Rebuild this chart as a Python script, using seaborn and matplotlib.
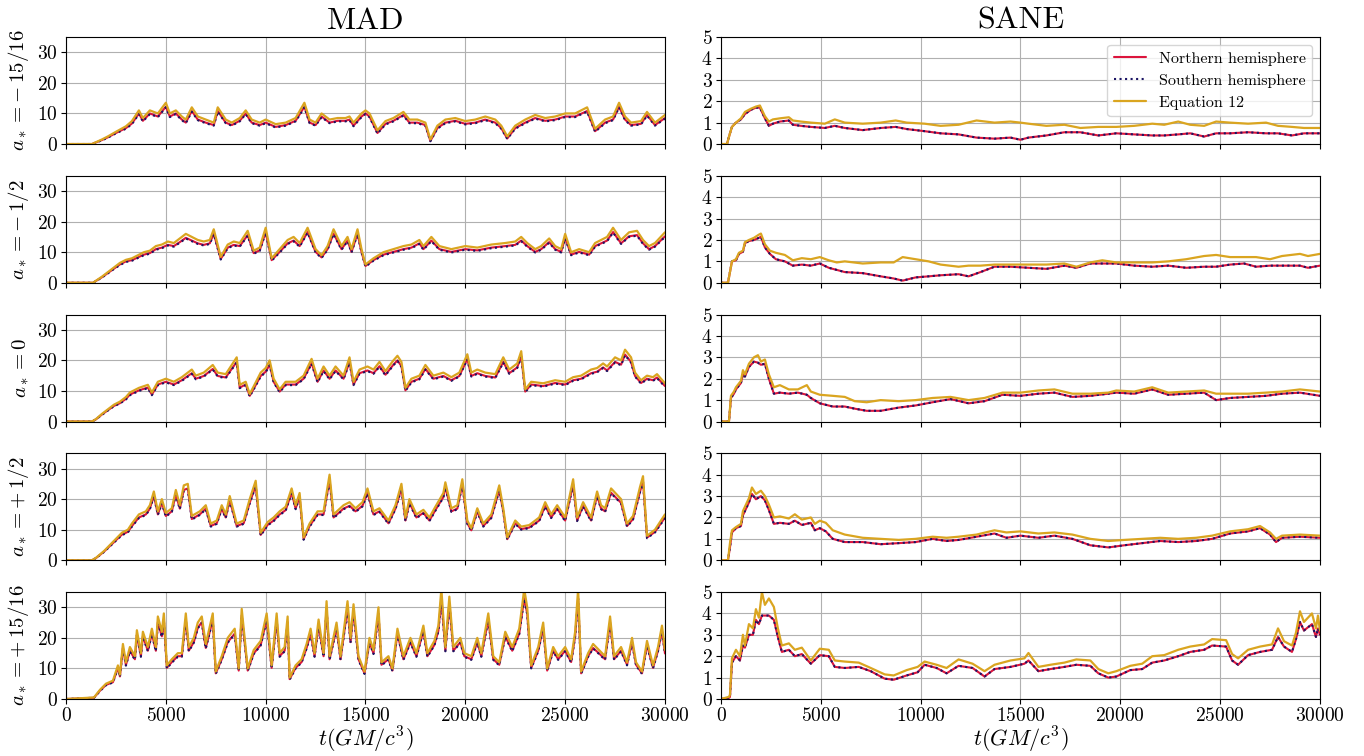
import matplotlib
matplotlib.use("Agg")
import matplotlib.pyplot as plt
import seaborn as sns

# ---------------- MAD, a* = -15/16 ----------------
T_MAD_1 = [0, 1300, 1800, 2100, 2500, 3000, 3300, 3650, 3850, 4200, 4600, 5000, 5200, 5500, 5800, 6000, 6300, 6600, 7000, 7400,
           7600, 8000, 8300, 8700, 9000, 9300, 9700, 10000, 10500, 11000, 11500, 11940, 12200, 12500, 12800, 13200, 13600, 14000, 14200, 14400,
           14800, 15000, 15200, 15600, 16000, 16400, 16900, 17200, 17600, 18000, 18250, 18600, 19000, 19500, 20000, 20500, 21000, 21500, 21800, 22100,
           22500, 23000, 23500, 24000, 24500, 25000, 25500, 26100, 26500, 27000, 27400, 27700, 28000, 28300, 28800, 29100, 29500, 30000]
EQ_MAD_1 = [0, 0, 1.5, 2.5, 4, 5.8, 7.5, 11, 8.5, 11, 10, 13.5, 10, 11, 9, 8, 12, 9, 8, 7,
            12, 8, 7, 8.5, 11, 8, 7, 8, 6.5, 7, 8.5, 13.5, 8, 7, 10, 8, 8.5, 8.5, 9, 7,
            10, 11, 10, 4.5, 7.5, 8.5, 10.5, 8, 8, 7, 1.5, 6, 8, 8.5, 7.5, 8, 9, 8, 6, 2.5,
            6, 8, 9.5, 8.5, 9, 10, 10, 12, 5, 8, 9, 13.5, 9, 7, 7.5, 10.5, 7, 9.5]
N_MAD_1 = [0, 0, 1.3, 2.2, 3.6, 5.2, 6.7, 10, 7.6, 10, 9, 12.2, 9, 10, 8, 7, 10.8, 8, 7, 6.2,
           10.8, 7, 6.2, 7.6, 10, 7, 6.2, 7, 5.6, 6.2, 7.6, 12.2, 7, 6.2, 9, 7, 7.6, 7.6, 8, 6,
           9, 10, 9, 3.6, 6.6, 7.6, 9.5, 7, 7, 6.2, 1.0, 5.2, 7, 7.6, 6.6, 7, 8, 7, 5.2, 1.8,
           5.2, 7, 8.5, 7.6, 8, 9, 9, 10.8, 4.2, 7, 8, 12.2, 8, 6.2, 6.6, 9.5, 6.2, 8.5]
S_MAD_1 = [0, 0, 1.2, 2.1, 3.5, 5.0, 6.5, 9.8, 7.4, 9.8, 8.8, 12.0, 8.8, 9.8, 7.8, 6.8, 10.6, 7.8, 6.8, 6.0,
           10.6, 6.8, 6.0, 7.4, 9.8, 6.8, 6.0, 6.8, 5.4, 6.0, 7.4, 12.0, 6.8, 6.0, 8.8, 6.8, 7.4, 7.4, 7.8, 5.8,
           8.8, 9.8, 8.8, 3.4, 6.4, 7.4, 9.3, 6.8, 6.8, 6.0, 0.9, 5.0, 6.8, 7.4, 6.4, 6.8, 7.8, 6.8, 5.0, 1.7,
           5.0, 6.8, 8.3, 7.4, 7.8, 8.8, 8.8, 10.6, 4.0, 6.8, 7.8, 12.0, 7.8, 6.0, 6.4, 9.3, 6.0, 8.3]

# ---------------- MAD, a* = -1/2 ----------------
T_MAD_2 = [0, 1350, 1800, 2100, 2400, 2700, 3000, 3300, 3600, 3900, 4200, 4500, 4800, 5100, 5400, 5700, 6000, 6300, 6600, 6900,
           7200, 7400, 7750, 8100, 8400, 8700, 9100, 9400, 9700, 10000, 10300, 10700, 11100, 11400, 11700, 12100, 12500, 12800, 13100, 13400,
           13800, 14100, 14300, 14600, 14800, 15000, 15400, 15900, 16400, 16900, 17300, 17700, 17900, 18300, 18700, 19300, 20000, 20600, 21300, 22000,
           22500, 22800, 23100, 23500, 23800, 24200, 24500, 24800, 25000, 25300, 25700, 26200, 26500, 26800, 27100, 27400, 27800, 28200, 28600, 28900,
           29200, 29500, 30000]
EQ_MAD_2 = [0, 0, 2, 3.5, 5, 6.5, 7.5, 8, 9, 10, 10.5, 12, 12.5, 13.5, 13, 14.5, 16, 15, 14, 13.5,
            14, 17.5, 8.5, 12.5, 13.5, 13, 17, 10.5, 11.5, 18, 8, 11, 14, 15, 13, 18, 11, 9, 12, 17.5,
            12, 15, 11, 17.5, 11, 6, 8, 10, 11, 12, 12.5, 14, 12, 15, 12, 11, 12, 11.5, 12.5, 13,
            13.5, 15, 13, 11, 12, 14.5, 12, 11, 16, 10, 11, 10, 13, 14, 15, 18, 14, 16.5, 17, 14,
            12, 13, 16.5]
N_MAD_2 = [0, 0, 1.8, 3.2, 4.6, 6, 7, 7.4, 8.3, 9.2, 9.7, 11, 11.5, 12.4, 12, 13.3, 14.7, 13.8, 12.9, 12.4,
           12.9, 16.1, 7.8, 11.5, 12.4, 12, 15.6, 9.7, 10.6, 16.6, 7.4, 10.1, 12.9, 13.8, 12, 16.6, 10.1, 8.3, 11, 16.1,
           11, 13.8, 10.1, 16.1, 10.1, 5.5, 7.4, 9.2, 10.1, 11, 11.5, 12.9, 11, 13.8, 11, 10.1, 11, 10.6, 11.5, 12,
           12.4, 13.8, 12, 10.1, 11, 13.3, 11, 10.1, 14.7, 9.2, 10.1, 9.2, 12, 12.9, 13.8, 16.6, 12.9, 15.2, 15.6, 12.9,
           11, 12, 15.2]
S_MAD_2 = [0, 0, 1.7, 3.1, 4.5, 5.8, 6.8, 7.2, 8.1, 9.0, 9.5, 10.8, 11.3, 12.2, 11.8, 13.1, 14.5, 13.6, 12.7, 12.2,
           12.7, 15.9, 7.6, 11.3, 12.2, 11.8, 15.4, 9.5, 10.4, 16.4, 7.2, 9.9, 12.7, 13.6, 11.8, 16.4, 9.9, 8.1, 10.8, 15.9,
           10.8, 13.6, 9.9, 15.9, 9.9, 5.3, 7.2, 9.0, 9.9, 10.8, 11.3, 12.7, 10.8, 13.6, 10.8, 9.9, 10.8, 10.4, 11.3, 11.8,
           12.2, 13.6, 11.8, 9.9, 10.8, 13.1, 10.8, 9.9, 14.5, 9.0, 9.9, 9.0, 11.8, 12.7, 13.6, 16.4, 12.7, 15.0, 15.4, 12.7,
           10.8, 11.8, 15.0]

# ---------------- MAD, a* = 0 ----------------
T_MAD_3 = [0, 1300, 1500, 1800, 2100, 2400, 2700, 3000, 3200, 3650, 4100, 4300, 4600, 5000, 5400, 5800, 6300, 6500, 6900, 7350,
           7600, 8000, 8200, 8550, 8700, 9000, 9200, 9400, 9750, 10000, 10200, 10400, 10700, 11000, 11500, 11900, 12300, 12600, 12900, 13200,
           13500, 13900, 14200, 14400, 14700, 15100, 15400, 15700, 16000, 16400, 16600, 16800, 17000, 17300, 17700, 18000, 18400, 18900, 19300, 19700,
           20100, 20300, 20600, 21000, 21500, 21900, 22200, 22600, 22800, 23000, 23300, 23900, 24500, 25000, 25400, 25800, 26300, 26600, 26900, 27100,
           27500, 27800, 28000, 28300, 28500, 28800, 29100, 29400, 29600, 30000]
EQ_MAD_3 = [0, 0, 0.8, 2.5, 4, 5.5, 6.5, 8, 9.5, 11, 12, 9.5, 13, 14, 13, 14.5, 17, 15, 16, 18.5,
            16, 15.5, 17.5, 21, 12, 13, 9, 11.5, 16, 17.5, 20, 14, 10.5, 13, 13, 15, 20.5, 14, 18, 15,
            18, 15, 21, 13, 17, 18, 17, 19.5, 16.5, 20, 21.5, 19.5, 11, 14, 15, 18.5, 15, 16, 14.5, 16,
            22, 16, 17, 16, 15.5, 21, 17, 19, 23, 10.5, 13, 12.5, 13.5, 13, 14.5, 15, 17, 17.5, 19, 18,
            21, 20, 23.5, 21, 16, 13.5, 15, 14.5, 15.5, 12.5]
N_MAD_3 = [0, 0, 0.7, 2.3, 3.7, 5.1, 6, 7.4, 8.8, 10.2, 11.1, 8.8, 12.1, 13, 12.1, 13.5, 15.8, 14, 14.9, 17.2,
           14.9, 14.4, 16.3, 19.5, 11.1, 12.1, 8.4, 10.7, 14.9, 16.3, 18.6, 13, 9.8, 12.1, 12.1, 14, 19.1, 13, 16.7, 14,
           16.7, 14, 19.5, 12.1, 15.8, 16.7, 15.8, 18.1, 15.3, 18.6, 20, 18.1, 10.2, 13, 14, 17.2, 14, 14.9, 13.5, 14.9,
           20.5, 14.9, 15.8, 14.9, 14.4, 19.5, 15.8, 17.7, 21.4, 9.8, 12.1, 11.6, 12.6, 12.1, 13.5, 14, 15.8, 16.3, 17.7, 16.7,
           19.5, 18.6, 21.9, 19.5, 14.9, 12.6, 14, 13.5, 14.4, 11.6]
S_MAD_3 = [0, 0, 0.7, 2.2, 3.6, 5.0, 5.9, 7.2, 8.6, 10.0, 10.9, 8.6, 11.9, 12.8, 11.9, 13.3, 15.6, 13.8, 14.7, 17.0,
           14.7, 14.2, 16.1, 19.3, 10.9, 11.9, 8.2, 10.5, 14.7, 16.1, 18.4, 12.8, 9.6, 11.9, 11.9, 13.8, 18.9, 12.8, 16.5, 13.8,
           16.5, 13.8, 19.3, 11.9, 15.6, 16.5, 15.6, 17.9, 15.1, 18.4, 19.8, 17.9, 10.0, 12.8, 13.8, 17.0, 13.8, 14.7, 13.3, 14.7,
           20.3, 14.7, 15.6, 14.7, 14.2, 19.3, 15.6, 17.5, 21.2, 9.6, 11.9, 11.4, 12.4, 11.9, 13.3, 13.8, 15.6, 16.1, 17.5, 16.5,
           19.3, 18.4, 21.7, 19.3, 14.7, 12.4, 13.8, 13.3, 14.2, 11.4]

# ---------------- MAD, a* = +1/2 ----------------
T_MAD_4 = [0, 1300, 1500, 1900, 2350, 2800, 3100, 3300, 3650, 4000, 4200, 4400, 4600, 4800, 5000, 5300, 5500, 5700, 5900, 6100,
           6300, 6700, 7000, 7250, 7550, 7800, 8000, 8200, 8550, 8900, 9200, 9500, 9750, 10100, 10400, 10700, 11000, 11300, 11500, 11700,
           11900, 12200, 12600, 12900, 13200, 13400, 13900, 14200, 14500, 14850, 15100, 15400, 15700, 16150, 16500, 16800, 17000, 17200, 17550, 17900,
           18200, 18500, 18900, 19000, 19300, 19600, 19850, 20100, 20300, 20600, 20900, 21300, 21700, 21900, 22100, 22500, 22800, 23200, 23700, 24000,
           24300, 24600, 25000, 25400, 25600, 25900, 26300, 26600, 26800, 27000, 27300, 27800, 28100, 28400, 28750, 28900, 29100, 29500, 30000]
EQ_MAD_4 = [0, 0, 0.8, 3, 6, 9, 10, 12, 15, 16, 18, 22.5, 16, 20, 15.5, 17, 23, 18, 24.5, 25,
            14.5, 16, 18, 12, 13, 18, 15, 21, 12, 13, 20, 26, 9, 12.5, 14, 16, 17.5, 23.5, 18, 22,
            7.5, 12, 16, 16, 28, 15, 18, 19, 17, 19, 23.5, 16, 17, 13, 18, 25, 14, 20, 15, 16.5,
            14, 17.5, 22, 25.5, 17, 18, 26.5, 13, 10.5, 17, 12, 15, 24.5, 17, 7.5, 13, 11, 11.5, 14, 19,
            15, 18, 14, 26.5, 14, 19, 14, 22.5, 18, 17, 23.5, 20, 12, 14.5, 24, 27.5, 8, 10, 15]
N_MAD_4 = [0, 0, 0.7, 2.8, 5.6, 8.4, 9.3, 11.2, 14, 15, 16.9, 21.2, 15, 18.8, 14.5, 16, 21.6, 16.9, 23, 23.5,
           13.5, 15, 16.9, 11.2, 12.1, 16.9, 14, 19.7, 11.2, 12.1, 18.8, 24.4, 8.3, 11.6, 13, 15, 16.4, 22.1, 16.9, 20.7,
           6.9, 11.2, 15, 15, 26.3, 14, 16.9, 17.8, 16, 17.8, 22.1, 15, 16, 12.1, 16.9, 23.5, 13, 18.8, 14, 15.5,
           13, 16.4, 20.7, 24, 16, 16.9, 24.9, 12.1, 9.8, 16, 11.2, 14, 23, 16, 6.9, 12.1, 10.2, 10.7, 13, 17.8,
           14, 16.9, 13, 24.9, 13, 17.8, 13, 21.2, 16.9, 16, 22.1, 18.8, 11.2, 13.5, 22.5, 25.8, 7.4, 9.3, 14]
S_MAD_4 = [0, 0, 0.7, 2.7, 5.5, 8.2, 9.1, 11.0, 13.8, 14.8, 16.7, 21.0, 14.8, 18.6, 14.3, 15.8, 21.4, 16.7, 22.8, 23.3,
           13.3, 14.8, 16.7, 11.0, 11.9, 16.7, 13.8, 19.5, 11.0, 11.9, 18.6, 24.2, 8.1, 11.4, 12.8, 14.8, 16.2, 21.9, 16.7, 20.5,
           6.7, 11.0, 14.8, 14.8, 26.1, 13.8, 16.7, 17.6, 15.8, 17.6, 21.9, 14.8, 15.8, 11.9, 16.7, 23.3, 12.8, 18.6, 13.8, 15.3,
           12.8, 16.2, 20.5, 23.8, 15.8, 16.7, 24.7, 11.9, 9.6, 15.8, 11.0, 13.8, 22.8, 15.8, 6.7, 11.9, 10.0, 10.5, 12.8, 17.6,
           13.8, 16.7, 12.8, 24.7, 12.8, 17.6, 12.8, 21.0, 16.7, 15.8, 21.9, 18.6, 11.0, 13.3, 22.3, 25.6, 7.2, 9.1, 13.8]

# ---------------- MAD, a* = +15/16 ----------------
T_MAD_5 = [0, 1400, 1700, 2000, 2350, 2600, 2700, 2850, 3000, 3200,
           3450, 3550, 3750, 3850, 4100, 4300, 4500, 4600, 4800, 4900,
           5050, 5300, 5600, 5800, 6000, 6150, 6400, 6600, 6800, 7000,
           7350, 7500, 7800, 8100, 8450, 8650, 8800, 9100, 9400, 9750,
           10050, 10300, 10550, 10700, 10950, 11100, 11200, 11500, 11800, 12050,
           12250, 12450, 12650, 12900, 13050, 13200, 13550, 13750, 14100, 14250,
           14400, 14650, 14950, 15200, 15400, 15650, 15800, 16150, 16350, 16600,
           16900, 17250, 17550, 17900, 18100, 18450, 18650, 18800, 19000, 19200,
           19400, 19750, 19950, 20300, 20600, 20800, 21150, 21400, 21700, 22000,
           22350, 22700, 22950, 23100, 23300, 23650, 23900, 24100, 24400, 24650,
           25000, 25300, 25500, 25650, 25800, 26150, 26400, 26700, 27000, 27250,
           27450, 27800, 28100, 28350, 28550, 28850, 29100, 29400, 29650, 29850,
           30000]
EQ_MAD_5 = [0, 0.5, 3, 5, 6, 11, 8, 18, 12, 17,
            14, 22.5, 15, 22, 17, 23, 17, 27, 22, 28,
            11, 13, 15, 15, 28, 17, 20, 25, 27, 18,
            28, 9, 14, 20, 23, 10, 29.5, 10, 16, 19,
            28, 11, 28, 15, 17, 27, 7, 11, 13, 18,
            23, 15, 26, 15, 32, 14, 25, 14, 32, 20,
            31, 14, 9, 20, 16, 30, 12, 14, 10, 23,
            14, 20, 15, 24, 15, 19, 24, 36, 17, 33.5,
            17, 20, 15, 14, 20, 15, 28, 14, 12, 22,
            17, 23, 36, 30, 11, 17, 25, 10, 17, 14,
            17, 13, 22, 36, 9, 15, 18, 16, 14, 27,
            14, 17, 12, 20, 12, 9, 19, 11, 17, 24,
            16]
N_MAD_5 = [0, 0.4, 2.7, 4.6, 5.5, 10.2, 7.4, 16.7, 11.1, 15.8,
           13, 21, 14, 20.5, 15.8, 21.4, 15.8, 25.1, 20.5, 26,
           10.2, 12.1, 14, 14, 26, 15.8, 18.6, 23.3, 25.1, 16.7,
           26, 8.4, 13, 18.6, 21.4, 9.3, 27.4, 9.3, 14.9, 17.7,
           26, 10.2, 26, 14, 15.8, 25.1, 6.5, 10.2, 12.1, 16.7,
           21.4, 14, 24.2, 14, 29.8, 13, 23.3, 13, 29.8, 18.6,
           28.8, 13, 8.4, 18.6, 14.9, 27.9, 11.2, 13, 9.3, 21.4,
           13, 18.6, 14, 22.3, 14, 17.7, 22.3, 33, 15.8, 31.2,
           15.8, 18.6, 14, 13, 18.6, 14, 26, 13, 11.2, 20.5,
           15.8, 21.4, 33, 27.9, 10.2, 15.8, 23.3, 9.3, 15.8, 13,
           15.8, 12.1, 20.5, 33, 8.4, 14, 16.7, 14.9, 13, 25.1,
           13, 15.8, 11.2, 18.6, 11.2, 8.4, 17.7, 10.2, 15.8, 22.3,
           14.9]
S_MAD_5 = [0, 0.4, 2.6, 4.5, 5.4, 10.0, 7.2, 16.5, 10.9, 15.6,
           12.8, 20.8, 13.8, 20.3, 15.6, 21.2, 15.6, 24.9, 20.3, 25.8,
           10.0, 11.9, 13.8, 13.8, 25.8, 15.6, 18.4, 23.1, 24.9, 16.5,
           25.8, 8.2, 12.8, 18.4, 21.2, 9.1, 27.2, 9.1, 14.7, 17.5,
           25.8, 10.0, 25.8, 13.8, 15.6, 24.9, 6.3, 10.0, 11.9, 16.5,
           21.2, 13.8, 24.0, 13.8, 29.6, 12.8, 23.1, 12.8, 29.6, 18.4,
           28.6, 12.8, 8.2, 18.4, 14.7, 27.7, 11.0, 12.8, 9.1, 21.2,
           12.8, 18.4, 13.8, 22.1, 13.8, 17.5, 22.1, 32.8, 15.6, 31.0,
           15.6, 18.4, 13.8, 12.8, 18.4, 13.8, 25.8, 12.8, 11.0, 20.3,
           15.6, 21.2, 32.8, 27.7, 10.0, 15.6, 23.1, 9.1, 15.6, 12.8,
           15.6, 11.9, 20.3, 32.8, 8.2, 13.8, 16.5, 14.7, 12.8, 24.9,
           12.8, 15.6, 11.0, 18.4, 11.0, 8.2, 17.5, 10.0, 15.6, 22.1,
           14.7]

# ---------------- SANE, a* = -15/16 ----------------
T_SANE_1 = [0, 300, 450, 550, 750, 1000, 1200, 1500, 1750, 1950,
            2200, 2400, 2600, 2950, 3400, 3600, 4000, 4500, 5200, 5700,
            6200, 7100, 8000, 8750, 9300, 10200, 11000, 11900, 12800, 13700,
            14500, 15000, 15400, 16300, 17200, 18000, 18900, 19800, 20700, 21600,
            22200, 22900, 23500, 24200, 24800, 25500, 26400, 27300, 27900, 28600,
            29200, 30000]
EQ_SANE_1 = [0, 0, 0.5, 0.8, 1.0, 1.2, 1.5, 1.65, 1.75, 1.8,
             1.3, 1.05, 1.15, 1.2, 1.25, 1.1, 1.05, 1.0, 0.95, 1.15,
             1.0, 0.95, 1.0, 1.1, 1.0, 0.95, 0.85, 0.9, 1.1, 1.0,
             1.05, 1.0, 0.95, 0.85, 0.9, 0.75, 0.8, 0.8, 0.85, 0.95,
             0.9, 1.05, 0.9, 0.85, 1.05, 1.0, 0.95, 1.0, 0.85, 0.8,
             0.75, 0.75]
N_SANE_1 = [0, 0, 0.5, 0.8, 1.0, 1.15, 1.4, 1.6, 1.7, 1.7,
            1.2, 0.85, 0.95, 1.05, 1.1, 0.9, 0.85, 0.8, 0.75, 0.85,
            0.75, 0.65, 0.75, 0.8, 0.7, 0.6, 0.5, 0.45, 0.3, 0.25,
            0.3, 0.2, 0.3, 0.4, 0.55, 0.55, 0.4, 0.5, 0.45, 0.4,
            0.4, 0.45, 0.5, 0.35, 0.5, 0.5, 0.55, 0.5, 0.5, 0.4,
            0.5, 0.5]
S_SANE_1 = [0, 0, 0.5, 0.8, 1.0, 1.15, 1.4, 1.6, 1.7, 1.7,
            1.2, 0.85, 0.95, 1.05, 1.1, 0.9, 0.85, 0.8, 0.75, 0.85,
            0.75, 0.65, 0.75, 0.8, 0.7, 0.6, 0.5, 0.45, 0.3, 0.25,
            0.3, 0.2, 0.3, 0.4, 0.55, 0.55, 0.4, 0.5, 0.45, 0.4,
            0.4, 0.45, 0.5, 0.35, 0.5, 0.5, 0.55, 0.5, 0.5, 0.4,
            0.5, 0.5]

# ---------------- SANE, a* = -1/2 ----------------
T_SANE_2 = [0, 350, 450, 550, 750, 900, 1100, 1200, 1400, 1650,
            1900, 2000, 2200, 2450, 2750, 3200, 3600, 4050, 4500, 4950,
            5400, 5800, 6200, 7100, 8000, 8650, 9100, 9750, 10400, 11000,
            11900, 12400, 13000, 13700, 14500, 15400, 16300, 17200, 17800, 18500,
            19100, 19800, 20700, 21600, 22400, 23300, 24200, 24800, 25500, 26200,
            26800, 27500, 28100, 29000, 29400, 30000]
EQ_SANE_2 = [0, 0, 0.5, 1.0, 1.1, 1.4, 1.5, 1.9, 2.0, 2.1,
             2.25, 2.3, 1.8, 1.5, 1.4, 1.3, 1.05, 1.15, 1.1, 1.2,
             1.05, 0.95, 1.0, 0.9, 0.95, 0.95, 1.2, 1.1, 1.0, 0.85,
             0.75, 0.8, 0.8, 0.85, 0.85, 0.85, 0.85, 0.9, 0.75, 0.95,
             1.05, 0.95, 0.95, 0.95, 1.0, 1.1, 1.25, 1.3, 1.2, 1.2,
             1.2, 1.1, 1.25, 1.35, 1.25, 1.35]
N_SANE_2 = [0, 0, 0.5, 1.0, 1.05, 1.35, 1.45, 1.85, 1.95, 2.0,
            2.1, 2.15, 1.65, 1.35, 1.1, 1.0, 0.8, 0.85, 0.8, 0.9,
            0.7, 0.6, 0.5, 0.45, 0.3, 0.2, 0.1, 0.25, 0.3, 0.35,
            0.4, 0.3, 0.5, 0.75, 0.75, 0.7, 0.65, 0.8, 0.7, 0.9,
            0.9, 0.9, 0.8, 0.75, 0.8, 0.7, 0.75, 0.75, 0.85, 0.9,
            0.75, 0.8, 0.8, 0.8, 0.7, 0.8]
S_SANE_2 = [0, 0, 0.5, 1.0, 1.05, 1.35, 1.45, 1.85, 1.95, 2.0,
            2.1, 2.15, 1.65, 1.35, 1.1, 1.0, 0.8, 0.85, 0.8, 0.9,
            0.7, 0.6, 0.5, 0.45, 0.3, 0.2, 0.1, 0.25, 0.3, 0.35,
            0.4, 0.3, 0.5, 0.75, 0.75, 0.7, 0.65, 0.8, 0.7, 0.9,
            0.9, 0.9, 0.8, 0.75, 0.8, 0.7, 0.75, 0.75, 0.85, 0.9,
            0.75, 0.8, 0.8, 0.8, 0.7, 0.8]

# ---------------- SANE, a* = 0 ----------------
T_SANE_3 = [0, 400, 500, 650, 750, 1000, 1100, 1200, 1400, 1650,
            1850, 2000, 2200, 2400, 2650, 2950, 3400, 3850, 4300, 4500,
            4950, 5600, 6200, 6700, 7300, 8000, 8900, 9750, 10600, 11500,
            12400, 13200, 14100, 15000, 15900, 16700, 17600, 18500, 19400, 19800,
            20700, 21600, 22400, 23300, 24200, 24800, 25500, 26400, 27300, 28100,
            29000, 30000]
EQ_SANE_3 = [0, 0, 1.2, 1.4, 1.6, 1.9, 2.4, 2.2, 2.7, 3.0,
             3.1, 2.8, 2.9, 2.2, 1.6, 1.7, 1.5, 1.5, 1.7, 1.4,
             1.25, 1.2, 1.15, 0.95, 0.9, 1.0, 0.95, 1.0, 1.1, 1.15,
             1.0, 1.1, 1.35, 1.35, 1.45, 1.5, 1.3, 1.3, 1.35, 1.45,
             1.4, 1.6, 1.35, 1.4, 1.45, 1.3, 1.3, 1.3, 1.35, 1.4,
             1.5, 1.4]
N_SANE_3 = [0, 0, 1.1, 1.3, 1.5, 1.8, 2.2, 2.1, 2.55, 2.8,
            2.75, 2.65, 2.7, 2.0, 1.3, 1.35, 1.3, 1.35, 1.25, 1.1,
            0.85, 0.7, 0.7, 0.6, 0.5, 0.5, 0.65, 0.75, 0.9, 1.05,
            0.85, 0.95, 1.25, 1.2, 1.3, 1.35, 1.15, 1.2, 1.3, 1.35,
            1.3, 1.5, 1.25, 1.3, 1.35, 1.0, 1.1, 1.15, 1.2, 1.3,
            1.35, 1.2]
S_SANE_3 = [0, 0, 1.1, 1.3, 1.5, 1.8, 2.2, 2.1, 2.55, 2.8,
            2.75, 2.65, 2.7, 2.0, 1.3, 1.35, 1.3, 1.35, 1.25, 1.1,
            0.85, 0.7, 0.7, 0.6, 0.5, 0.5, 0.65, 0.75, 0.9, 1.05,
            0.85, 0.95, 1.25, 1.2, 1.3, 1.35, 1.15, 1.2, 1.3, 1.35,
            1.3, 1.5, 1.25, 1.3, 1.35, 1.0, 1.1, 1.15, 1.2, 1.3,
            1.35, 1.2]

# ---------------- SANE, a* = +1/2 ----------------
T_SANE_4 = [0, 350, 450, 550, 750, 1000, 1100, 1200, 1400, 1550,
            1750, 2000, 2200, 2400, 2650, 2950, 3400, 3700, 4050, 4500,
            4700, 4950, 5250, 5600, 6200, 7100, 8000, 8900, 9750, 10600,
            11300, 11900, 12800, 13700, 14300, 15000, 15900, 16700, 17600, 18500,
            19400, 20200, 21100, 22000, 22900, 23800, 24600, 25500, 26400, 27000,
            27500, 27800, 28100, 29000, 30000]
EQ_SANE_4 = [0, 0, 0.8, 1.4, 1.55, 1.7, 2.3, 2.5, 2.9, 3.4,
             3.1, 3.25, 3.0, 2.6, 2.0, 2.05, 1.95, 2.15, 1.9, 2.0,
             1.7, 1.85, 1.75, 1.4, 1.2, 1.05, 1.0, 0.95, 1.0, 1.1,
             1.05, 1.1, 1.2, 1.4, 1.3, 1.35, 1.25, 1.3, 1.2, 1.0,
             0.9, 0.95, 1.0, 1.05, 1.0, 1.05, 1.15, 1.35, 1.45, 1.6,
             1.3, 1.0, 1.15, 1.2, 1.15]
N_SANE_4 = [0, 0, 0.6, 1.3, 1.5, 1.6, 2.1, 2.3, 2.7, 3.1,
            2.85, 3.0, 2.8, 2.35, 1.7, 1.75, 1.7, 1.85, 1.65, 1.75,
            1.4, 1.5, 1.35, 1.0, 0.85, 0.85, 0.75, 0.8, 0.85, 1.0,
            0.9, 0.95, 1.1, 1.25, 1.05, 1.15, 1.05, 1.15, 1.0, 0.7,
            0.6, 0.7, 0.8, 0.9, 0.85, 0.9, 1.0, 1.25, 1.35, 1.5,
            1.2, 0.85, 1.05, 1.1, 1.05]
S_SANE_4 = [0, 0, 0.6, 1.3, 1.5, 1.6, 2.1, 2.3, 2.7, 3.1,
            2.85, 3.0, 2.8, 2.35, 1.7, 1.75, 1.7, 1.85, 1.65, 1.75,
            1.4, 1.5, 1.35, 1.0, 0.85, 0.85, 0.75, 0.8, 0.85, 1.0,
            0.9, 0.95, 1.1, 1.25, 1.05, 1.15, 1.05, 1.15, 1.0, 0.7,
            0.6, 0.7, 0.8, 0.9, 0.85, 0.9, 1.0, 1.25, 1.35, 1.5,
            1.2, 0.85, 1.05, 1.1, 1.05]

# ---------------- SANE, a* = +15/16 ----------------
T_SANE_5 = [0, 400, 450, 550, 750, 950, 1100, 1200, 1400, 1600,
            1750, 1900, 2050, 2200, 2400, 2650, 2850, 3050, 3400, 3700,
            4050, 4500, 4950, 5400, 5700, 6200, 6900, 7500, 8200, 8650,
            9300, 9850, 10200, 10800, 11300, 11900, 12600, 13200, 13700, 14500,
            15200, 15400, 15900, 16500, 17200, 17800, 18500, 18900, 19400, 19800,
            20500, 21100, 21600, 22200, 22900, 23500, 24200, 24600, 25300, 25600,
            25900, 26400, 27000, 27600, 27900, 28200, 28600, 28800, 29000, 29200,
            29600, 29800, 29900, 30000]
EQ_SANE_5 = [0, 0.1, 0.2, 1.9, 2.3, 2.0, 3.0, 2.5, 3.5, 3.3,
             4.2, 3.8, 5.0, 4.4, 4.7, 4.3, 3.3, 2.5, 2.6, 2.3,
             2.4, 1.8, 2.35, 2.3, 1.8, 1.75, 1.7, 1.45, 1.15, 1.1,
             1.35, 1.5, 1.75, 1.6, 1.45, 1.85, 1.65, 1.3, 1.6, 1.8,
             1.9, 2.15, 1.5, 1.6, 1.7, 1.85, 1.8, 1.4, 1.2, 1.3,
             1.55, 1.65, 2.0, 2.05, 2.3, 2.45, 2.55, 2.8, 2.75, 2.1,
             1.9, 2.3, 2.45, 2.55, 3.3, 2.7, 2.5, 3.1, 4.1, 3.6,
             4.0, 3.3, 3.9, 3.2]
N_SANE_5 = [0, 0.05, 0.1, 1.7, 2.0, 1.8, 2.5, 2.4, 3.0, 3.0,
            3.7, 3.5, 3.9, 3.9, 3.9, 3.7, 2.9, 2.2, 2.3, 2.0,
            2.1, 1.65, 2.05, 2.0, 1.5, 1.45, 1.5, 1.3, 0.95, 0.9,
            1.1, 1.25, 1.6, 1.45, 1.2, 1.55, 1.45, 1.05, 1.4, 1.5,
            1.65, 1.8, 1.3, 1.4, 1.5, 1.6, 1.55, 1.2, 1.0, 1.05,
            1.35, 1.4, 1.7, 1.8, 2.0, 2.2, 2.3, 2.5, 2.45, 1.8,
            1.6, 2.05, 2.2, 2.3, 2.9, 2.45, 2.2, 2.8, 3.6, 3.2,
            3.5, 2.9, 3.3, 3.0]
S_SANE_5 = [0, 0.05, 0.1, 1.7, 2.0, 1.8, 2.5, 2.4, 3.0, 3.0,
            3.7, 3.5, 3.9, 3.9, 3.9, 3.7, 2.9, 2.2, 2.3, 2.0,
            2.1, 1.65, 2.05, 2.0, 1.5, 1.45, 1.5, 1.3, 0.95, 0.9,
            1.1, 1.25, 1.6, 1.45, 1.2, 1.55, 1.45, 1.05, 1.4, 1.5,
            1.65, 1.8, 1.3, 1.4, 1.5, 1.6, 1.55, 1.2, 1.0, 1.05,
            1.35, 1.4, 1.7, 1.8, 2.0, 2.2, 2.3, 2.5, 2.45, 1.8,
            1.6, 2.05, 2.2, 2.3, 2.9, 2.45, 2.2, 2.8, 3.6, 3.2,
            3.5, 2.9, 3.3, 3.0]

ROW_LABELS = [r"$a_* = -\:15/16$", r"$a_* = -\:1/2$", r"$a_* = 0$", r"$a_* = +\:1/2$", r"$a_* = +\:15/16$"]
COL_TITLES = ["MAD", "SANE"]
SERIES_NAMES = ["Northern hemisphere", "Southern hemisphere", "Equation 12"]
MAD_YTICKS = [0, 10, 20, 30]
SANE_YTICKS = [0, 1, 2, 3, 4, 5]
XTICKS = [0, 5000, 10000, 15000, 20000, 25000, 30000]
X_LABEL = r"$t(GM/c^3)$"

MAD_PANELS = [(T_MAD_1, N_MAD_1, S_MAD_1, EQ_MAD_1), (T_MAD_2, N_MAD_2, S_MAD_2, EQ_MAD_2),
              (T_MAD_3, N_MAD_3, S_MAD_3, EQ_MAD_3), (T_MAD_4, N_MAD_4, S_MAD_4, EQ_MAD_4),
              (T_MAD_5, N_MAD_5, S_MAD_5, EQ_MAD_5)]
SANE_PANELS = [(T_SANE_1, N_SANE_1, S_SANE_1, EQ_SANE_1), (T_SANE_2, N_SANE_2, S_SANE_2, EQ_SANE_2),
               (T_SANE_3, N_SANE_3, S_SANE_3, EQ_SANE_3), (T_SANE_4, N_SANE_4, S_SANE_4, EQ_SANE_4),
               (T_SANE_5, N_SANE_5, S_SANE_5, EQ_SANE_5)]

sns.set_theme(style="ticks")
plt.rcParams.update({
    "font.family": "serif",
    "font.serif": ["cmr10"],
    "mathtext.fontset": "cm",
    "axes.formatter.use_mathtext": True,
    "axes.unicode_minus": False,
    "axes.edgecolor": "black",
    "axes.linewidth": 0.8,
    "text.color": "black",
    "axes.labelcolor": "black",
    "axes.titlecolor": "black",
    "xtick.color": "black",
    "ytick.color": "black",
    "legend.labelcolor": "black",
})

fig, axes = plt.subplots(5, 2, figsize=(13.64, 7.56), dpi=100, sharex=True)
fig.subplots_adjust(left=0.0484, right=0.9677, top=0.951, bottom=0.0754, hspace=0.297, wspace=0.0935)

C_N, C_S, C_E = "#dc143c", "#1b1464", "#daa520"

for col, panels in enumerate([MAD_PANELS, SANE_PANELS]):
    for row, (t, n, s, e) in enumerate(panels):
        ax = axes[row, col]
        sns.lineplot(x=t, y=n, ax=ax, color=C_N, linewidth=1.5, label=SERIES_NAMES[0])
        sns.lineplot(x=t, y=s, ax=ax, color=C_S, linewidth=1.5, linestyle=":", label=SERIES_NAMES[1])
        sns.lineplot(x=t, y=e, ax=ax, color=C_E, linewidth=1.6, label=SERIES_NAMES[2])
        leg = ax.get_legend()
        if leg is not None:
            leg.remove()
        ax.set_xlim(0, 30000)
        if col == 0:
            ax.set_ylim(0, 35)
            ax.set_yticks(MAD_YTICKS)
            ax.set_ylabel(ROW_LABELS[row], fontsize=15, labelpad=4)
        else:
            ax.set_ylim(0, 5)
            ax.set_yticks(SANE_YTICKS)
            ax.set_ylabel("")
        ax.set_xticks(XTICKS)
        ax.grid(True, color="#b0b0b0", linewidth=0.8)
        ax.set_axisbelow(True)
        ax.tick_params(labelsize=14, length=3.5, width=0.8, pad=2.5)
        for sp in ax.spines.values():
            sp.set_visible(True)
            sp.set_color("black")
        if row == 4:
            ax.set_xlabel(X_LABEL, fontsize=16, labelpad=0)
        else:
            ax.set_xlabel("")

for col in range(2):
    axes[0, col].set_title(COL_TITLES[col], fontsize=23, pad=6)

axes[0, 1].legend(loc="upper right", fontsize=11.5, framealpha=0.8, edgecolor="#cccccc",
                  fancybox=True, borderpad=0.4, handlelength=2.0)

fig.savefig("out.png", dpi=100)
